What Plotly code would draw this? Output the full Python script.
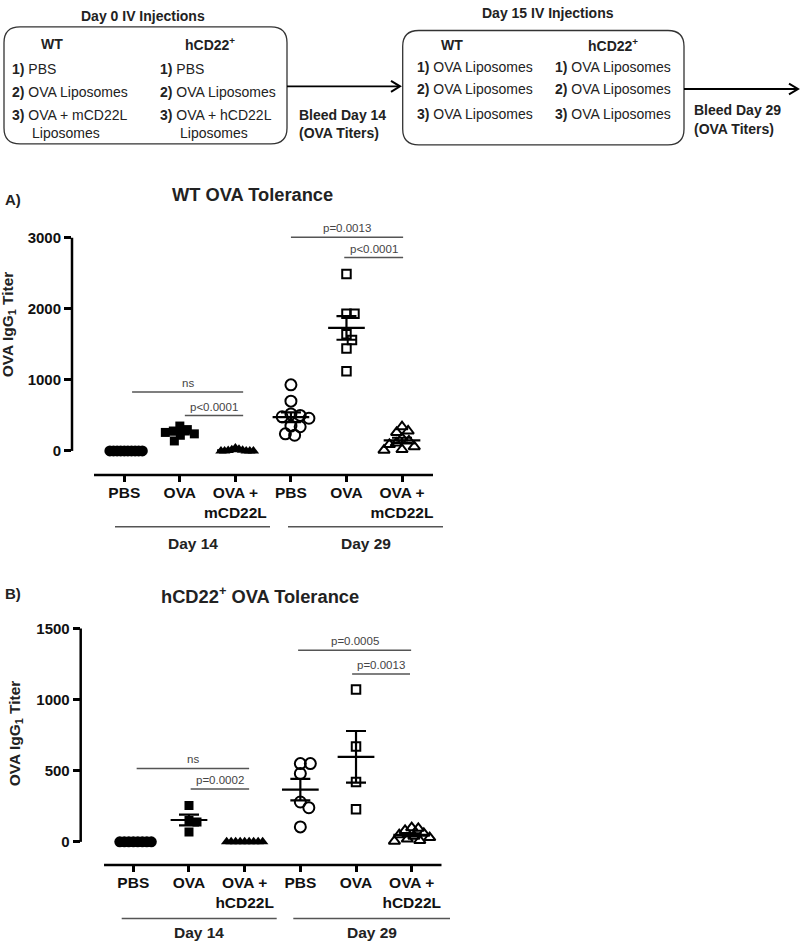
import numpy as np
import plotly.graph_objects as go

W, H = 800, 942
FONT = "Arial, 'Liberation Sans', sans-serif"

# ---------------- data ----------------
cat_A = ["PBS", "OVA", "OVA +<br>mCD22L", "PBS", "OVA", "OVA +<br>mCD22L"]
cat_B = ["PBS", "OVA", "OVA +<br>hCD22L", "PBS", "OVA", "OVA +<br>hCD22L"]
day_labels = ["Day 14", "Day 29"]

A_pbs_d14 = [0, 0, 0, 0, 0, 0, 0, 0, 0, 0]
A_ova_d14 = [350, 300, 280, 260, 240, 220, 140]
A_mcd_d14 = [40, 25, 15, 10, 5, 0, 0, 0, 0, 0]
A_pbs_d29 = [930, 700, 520, 500, 480, 460, 350, 340, 240, 220]
A_ova_d29 = [2490, 1930, 1930, 1640, 1560, 1440, 1120]
A_mcd_d29 = [340, 280, 260, 180, 140, 110, 90, 60, 20, 10]

B_pbs_d14 = [0, 0, 0, 0, 0, 0, 0, 0]
B_ova_d14 = [255, 150, 140, 70]
B_hcd_d14 = [0, 0, 0, 0, 0, 0, 0, 0, 0]
B_pbs_d29 = [550, 550, 480, 280, 240, 105]
B_ova_d29 = [1070, 670, 420, 230]
B_hcd_d29 = [100, 95, 80, 60, 50, 40, 30, 20, 10, 5]

A_ticks = [0, 1000, 2000, 3000]
B_ticks = [0, 500, 1000, 1500]

# comparison brackets: (x start, x end, y level, label)
A_brackets = [(1.14, 3.14, 828, "ns"), (2.09, 3.14, 498, "p<0.0001"),
              (4.00, 6.02, 3008, "p=0.0013"), (4.96, 6.02, 2720, "p<0.0001")]
B_brackets = [(1.06, 3.08, 516, "ns"), (2.03, 3.08, 371, "p=0.0002"),
              (3.96, 5.99, 1347, "p=0.0005"), (4.93, 5.97, 1180, "p=0.0013")]

SYMBOLS = ["circle", "square", "triangle-up", "circle-open", "square-open", "triangle-up-open"]
SIZES = [11, 9, 10, 11, 8.5, 10]


def X(p):
    return p / W


def Y(p):
    return 1 - p / H


def swarm(values, ypx, xpx, d, maxhalf):
    order = sorted(range(len(values)), key=lambda k: -values[k])
    placed = []
    off = [0.0] * len(values)
    for k in order:
        y = values[k] * ypx
        j = 0
        found = None
        while found is None:
            cands = [0.0] if j == 0 else [j * 0.5, -j * 0.5]
            for c in cands:
                if all((c - a) ** 2 + (y - b) ** 2 >= d * d for a, b in placed):
                    found = c
                    break
            j += 1
        placed.append((found, y))
        off[k] = found
    m = max(abs(o) for o in off) or 1.0
    s = min(1.0, maxhalf / m)
    return [o * s / xpx for o in off]


fig = go.Figure()

# panel geometry (pixels)
PA = dict(l=72, r=433, t=215, b=471, xr=[0.0583, 6.558], yr=[-339, 3233])
PB = dict(l=80.7, r=441.7, t=625, b=864.3, xr=[0.055, 6.539], yr=[-162.3, 1505])


def add_panel(groups, xa, ya, P):
    xpx = (P["r"] - P["l"]) / (P["xr"][1] - P["xr"][0])
    ypx = (P["b"] - P["t"]) / (P["yr"][1] - P["yr"][0])
    for i, vals in enumerate(groups):
        offs = swarm(vals, ypx, xpx, 0.9 * SIZES[i], 18)
        openm = "open" in SYMBOLS[i]
        fig.add_trace(go.Scatter(
            x=[i + 1 + o for o in offs], y=vals, mode="markers",
            marker=dict(symbol=SYMBOLS[i], size=SIZES[i], color="black",
                        line=dict(color="black", width=2 if openm else 0)),
            xaxis=xa, yaxis=ya, showlegend=False, hoverinfo="skip"))
    for i, vals in enumerate(groups):
        m = float(np.mean(vals))
        s = float(np.std(vals, ddof=1) / np.sqrt(len(vals)))
        fig.add_trace(go.Scatter(
            x=[i + 1 - 0.33, i + 1 + 0.33], y=[m, m], mode="lines",
            line=dict(color="black", width=2.2),
            xaxis=xa, yaxis=ya, showlegend=False, hoverinfo="skip"))
        fig.add_trace(go.Scatter(
            x=[i + 1], y=[m], mode="markers",
            marker=dict(size=1, color="rgba(0,0,0,0)"),
            error_y=dict(type="data", array=[s], visible=True, color="black",
                         thickness=2.2, width=10),
            xaxis=xa, yaxis=ya, showlegend=False, hoverinfo="skip"))


add_panel([A_pbs_d14, A_ova_d14, A_mcd_d14, A_pbs_d29, A_ova_d29, A_mcd_d29], "x", "y", PA)
add_panel([B_pbs_d14, B_ova_d14, B_hcd_d14, B_pbs_d29, B_ova_d29, B_hcd_d29], "x2", "y2", PB)


def xaxis_cfg(P, cats, anchor):
    return dict(domain=[X(P["l"]), X(P["r"])], range=P["xr"], anchor=anchor,
                tickvals=[1, 2, 3, 4, 5, 6], ticktext=["<b>%s</b>" % c for c in cats],
                ticks="outside", ticklen=6, tickwidth=2.5, tickcolor="black",
                ticklabelstandoff=-3,
                showline=False, showgrid=False, zeroline=False,
                tickfont=dict(family=FONT, size=15.5, color="#111111"))


def yaxis_cfg(P, ticks, anchor):
    return dict(domain=[Y(P["b"]), Y(P["t"])], range=P["yr"], anchor=anchor,
                tickvals=ticks, ticktext=["<b>%d</b>" % t for t in ticks],
                ticks="outside", ticklen=7, tickwidth=2.5, tickcolor="black",
                showline=False, showgrid=False, zeroline=False,
                tickfont=dict(family=FONT, size=15, color="#111111"))


shapes = []
annotations = []

# axis lines
for xa, ya, P, ticks, xstart in [("x", "y", PA, A_ticks, 0.4545), ("x2", "y2", PB, B_ticks, 0.474)]:
    shapes.append(dict(type="line", xref=xa + " domain", yref=ya, x0=0, x1=0,
                       y0=ticks[0], y1=ticks[-1], line=dict(color="black", width=2.5)))
    shapes.append(dict(type="line", xref=xa, yref=ya + " domain", x0=xstart, x1=P["xr"][1],
                       y0=0, y1=0, line=dict(color="black", width=2.5)))

# brackets
for xa, ya, br in [("x", "y", A_brackets), ("x2", "y2", B_brackets)]:
    for x0, x1, yv, lab in br:
        shapes.append(dict(type="line", xref=xa, yref=ya, x0=x0, x1=x1, y0=yv, y1=yv,
                           line=dict(color="#555555", width=1.5)))
        annotations.append(dict(xref=xa, yref=ya, x=(x0 + x1) / 2, y=yv, text=lab,
                                showarrow=False, yanchor="bottom", yshift=1,
                                font=dict(family=FONT, size=11.5, color="#444444")))

# day group lines
for (l14, r14, l29, r29, yl, yt) in [(115, 270, 288, 443, 523.3, 540), (121.7, 276.7, 293.3, 450, 918.3, 932)]:
    for (a, b), lab in zip([(l14, r14), (l29, r29)], day_labels):
        shapes.append(dict(type="line", xref="paper", yref="paper", x0=X(a), x1=X(b),
                           y0=Y(yl), y1=Y(yl), line=dict(color="#555555", width=1.5)))
        annotations.append(dict(xref="paper", yref="paper", x=X((a + b) / 2), y=Y(yt),
                                text="<b>%s</b>" % lab, showarrow=False,
                                xanchor="center", yanchor="middle",
                                font=dict(family=FONT, size=15.5, color="#222222")))

# panel titles and y titles
for lab, px_, py_ in [("A)", 3, 193), ("B)", 3, 591)]:
    annotations.append(dict(xref="paper", yref="paper", x=X(px_), y=Y(py_), text="<b>%s</b>" % lab,
                            showarrow=False, xanchor="left", yanchor="middle",
                            font=dict(family=FONT, size=15, color="#222222")))
for lab, px_, py_ in [("WT OVA Tolerance", 253, 188), ("hCD22<sup>+</sup> OVA Tolerance", 260, 592)]:
    annotations.append(dict(xref="paper", yref="paper", x=X(px_), y=Y(py_), text="<b>%s</b>" % lab,
                            showarrow=False, xanchor="center", yanchor="middle",
                            font=dict(family=FONT, size=18.3, color="#222222")))
for px_, py_ in [(8, 319), (15.5, 732)]:
    annotations.append(dict(xref="paper", yref="paper", x=X(px_), y=Y(py_),
                            text="<b>OVA IgG<sub>1</sub> Titer</b>", textangle=-90,
                            showarrow=False, xanchor="center", yanchor="middle",
                            font=dict(family=FONT, size=15.5, color="#222222")))


# ---------------- schematic ----------------
def rrect(x0, y0, x1, y1, r):
    p = "M %f,%f " % (X(x0 + r), Y(y0))
    p += "L %f,%f Q %f,%f %f,%f " % (X(x1 - r), Y(y0), X(x1), Y(y0), X(x1), Y(y0 + r))
    p += "L %f,%f Q %f,%f %f,%f " % (X(x1), Y(y1 - r), X(x1), Y(y1), X(x1 - r), Y(y1))
    p += "L %f,%f Q %f,%f %f,%f " % (X(x0 + r), Y(y1), X(x0), Y(y1), X(x0), Y(y1 - r))
    p += "L %f,%f Q %f,%f %f,%f Z" % (X(x0), Y(y0 + r), X(x0), Y(y0), X(x0 + r), Y(y0))
    return p


for bx in [(4, 19, 287, 137), (402.7, 22.7, 684, 138)]:
    shapes.append(dict(type="path", xref="paper", yref="paper", path=rrect(*bx, 16),
                       line=dict(color="#333333", width=1.3)))

for (x0, x1, yy) in [(287, 400, 79), (684, 798, 81.7)]:
    shapes.append(dict(type="line", xref="paper", yref="paper", x0=X(x0), x1=X(x1 - 1),
                       y0=Y(yy), y1=Y(yy), line=dict(color="black", width=1.8)))
    shapes.append(dict(type="path", xref="paper", yref="paper",
                       path="M %f,%f L %f,%f L %f,%f" % (X(x1 - 9), Y(yy - 5.5), X(x1), Y(yy),
                                                         X(x1 - 9), Y(yy + 5.5)),
                       line=dict(color="black", width=2)))


def txt(s, px_, py_, anchor="left", size=14):
    annotations.append(dict(xref="paper", yref="paper", x=X(px_), y=Y(py_), text=s,
                            showarrow=False, xanchor=anchor, yanchor="middle",
                            font=dict(family=FONT, size=size, color="#222222")))


txt("<b>Day 0 IV Injections</b>", 143, 8, "center", 14)
txt("<b>WT</b>", 52, 36, "center")
txt("<b>hCD22<sup>+</sup></b>", 210, 36, "center")
for col_x, lig in [(10, "mCD22L"), (158, "hCD22L")]:
    txt("<b>1)</b> PBS", col_x, 62)
    txt("<b>2)</b> OVA Liposomes", col_x, 85)
    txt("<b>3)</b> OVA + %s" % lig, col_x, 108)
    txt("Liposomes", col_x + 20, 126)
txt("<b>Bleed Day 14</b>", 297, 108)
txt("<b>(OVA Titers)</b>", 297, 126)

txt("<b>Day 15 IV Injections</b>", 548, 5, "center", 14)
txt("<b>WT</b>", 452, 37, "center")
txt("<b>hCD22<sup>+</sup></b>", 613, 37, "center")
for col_x in [415, 553]:
    txt("<b>1)</b> OVA Liposomes", col_x, 60)
    txt("<b>2)</b> OVA Liposomes", col_x, 82)
    txt("<b>3)</b> OVA Liposomes", col_x, 107)
txt("<b>Bleed Day 29</b>", 692, 103)
txt("<b>(OVA Titers)</b>", 692, 122)

fig.update_layout(
    width=W, height=H, margin=dict(l=0, r=0, t=0, b=0),
    paper_bgcolor="white", plot_bgcolor="white",
    font=dict(family=FONT, color="#222222"),
    xaxis=xaxis_cfg(PA, cat_A, "y"), yaxis=yaxis_cfg(PA, A_ticks, "x"),
    xaxis2=xaxis_cfg(PB, cat_B, "y2"), yaxis2=yaxis_cfg(PB, B_ticks, "x2"),
    shapes=shapes, annotations=annotations, showlegend=False,
)

fig.write_html("out.html", config={"displayModeBar": False},
               post_script="document.body.style.margin='0px';document.body.style.padding='0px';")
